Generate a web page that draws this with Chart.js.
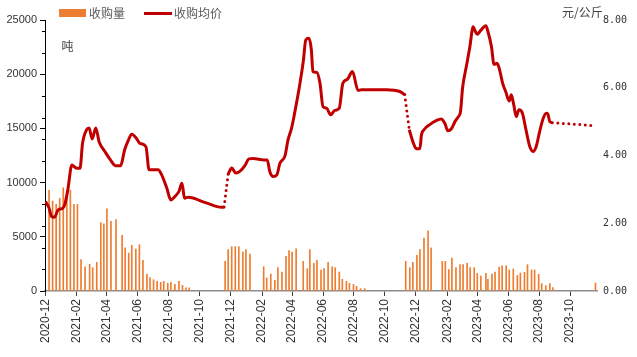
<!DOCTYPE html>
<html><head><meta charset="utf-8">
<script src="https://cdn.jsdelivr.net/npm/chart.js@4"></script>
<style>html,body{margin:0;padding:0;background:#fff}#wrap{width:637px;height:357px;position:relative}</style>
</head><body><div id="wrap"><canvas id="c"></canvas></div>
<script>
// ---- data ----
const barDates = [
 '2020-12-08','2020-12-15','2020-12-22','2020-12-29','2021-01-05','2021-01-12','2021-01-19','2021-01-26','2021-02-02','2021-02-09',
 '2021-02-17','2021-02-26','2021-03-04','2021-03-12','2021-03-20','2021-03-26','2021-04-01','2021-04-09','2021-04-19','2021-05-01',
 '2021-05-07','2021-05-14','2021-05-20','2021-05-28','2021-06-04','2021-06-11','2021-06-19','2021-06-25','2021-07-02','2021-07-09',
 '2021-07-16','2021-07-22','2021-07-30','2021-08-05','2021-08-13','2021-08-21','2021-08-28','2021-09-04','2021-09-10',
 '2021-11-20','2021-11-26','2021-12-03','2021-12-10','2021-12-17','2021-12-25','2021-12-31','2022-01-08','2022-02-04','2022-02-10',
 '2022-02-18','2022-02-26','2022-03-04','2022-03-12','2022-03-20','2022-03-26','2022-04-01','2022-04-09','2022-04-23','2022-05-01',
 '2022-05-06','2022-05-14','2022-05-20','2022-05-28','2022-06-03','2022-06-11','2022-06-19','2022-06-25','2022-07-03','2022-07-09',
 '2022-07-17','2022-07-23','2022-07-31','2022-08-06','2022-08-14','2022-08-22',
 '2022-11-11','2022-11-19','2022-11-25','2022-12-03','2022-12-09','2022-12-17','2022-12-25','2022-12-31','2023-01-22','2023-01-28',
 '2023-02-04','2023-02-10','2023-02-18','2023-02-26','2023-03-04','2023-03-12','2023-03-18','2023-03-26','2023-04-01','2023-04-08',
 '2023-04-18','2023-04-22','2023-04-30','2023-05-06','2023-05-14','2023-05-20','2023-05-28','2023-06-03','2023-06-11','2023-06-19',
 '2023-06-25','2023-07-03','2023-07-09','2023-07-17','2023-07-23','2023-07-31','2023-08-06','2023-08-14','2023-08-22','2023-08-28',
 '2023-11-20'
];
const barValues = [
 9280,8300,7990,8540,9520,9000,9300,7990,7990,2890,
 2240,2460,2150,2640,6300,6200,7590,6420,6600,5130,
 3990,3500,4210,3870,4270,2830,1540,1230,1040,890,
 800,890,710,800,610,890,520,300,300,
 2730,3810,4090,4090,4090,3590,3810,3410,2240,1200,
 1570,980,2150,1750,3200,3720,3590,3900,2730,2060,
 3810,2550,2830,1940,2060,2640,2240,2150,1750,1080,
 890,710,610,430,220,220,
 2730,2150,2640,3290,3810,4880,5560,3990,2730,2730,
 1970,3040,2150,2430,2430,2550,2150,2150,1630,1380,
 1630,1080,1570,1750,2210,2330,2330,1940,2030,1440,
 1660,1720,2430,1940,1940,1540,680,490,680,310,
 740
];
const priceDates = [
 '2020-12-01','2020-12-08','2020-12-13','2020-12-19','2020-12-26','2021-01-03','2021-01-08','2021-01-14','2021-01-22','2021-01-30',
 '2021-02-07','2021-02-12','2021-02-20','2021-02-25','2021-03-03','2021-03-10','2021-03-17','2021-03-28','2021-04-07','2021-04-18',
 '2021-04-28','2021-05-06','2021-05-13','2021-05-20','2021-05-29','2021-06-05','2021-06-17','2021-06-23','2021-07-11','2021-07-18',
 '2021-07-28','2021-08-05','2021-08-13','2021-08-21','2021-08-27','2021-09-01','2021-09-08','2021-10-14','2021-11-13','2021-11-18',
 '2021-11-22',
 '2021-11-26','2021-12-03','2021-12-11','2021-12-19','2021-12-29','2022-01-06','2022-01-14','2022-02-05','2022-02-11','2022-02-16',
 '2022-02-23','2022-03-02','2022-03-08','2022-03-18','2022-03-24','2022-03-31','2022-04-06','2022-04-15','2022-04-23','2022-04-28',
 '2022-05-04','2022-05-09','2022-05-12','2022-05-20','2022-05-26','2022-06-01','2022-06-08','2022-06-16','2022-06-24','2022-07-03',
 '2022-07-10','2022-07-19','2022-07-29','2022-08-09','2022-08-16','2022-10-04','2022-10-30','2022-11-09',
 '2022-11-13',
 '2022-11-18','2022-11-25','2022-12-02','2022-12-09','2022-12-12','2022-12-17','2022-12-29','2023-01-10','2023-01-20','2023-01-27',
 '2023-02-02','2023-02-09','2023-02-16','2023-02-22','2023-02-27','2023-03-03','2023-03-11','2023-03-17','2023-03-24','2023-03-27',
 '2023-04-01','2023-04-07','2023-04-18','2023-04-22','2023-04-29','2023-05-04','2023-05-10','2023-05-15','2023-05-21','2023-05-27',
 '2023-06-03','2023-06-07','2023-06-12','2023-06-17','2023-06-22','2023-06-29','2023-07-06','2023-07-13','2023-07-20','2023-07-26',
 '2023-08-02','2023-08-09','2023-08-15','2023-08-18','2023-08-22','2023-08-27'
];
const priceValues = [
 2.64,2.45,2.20,2.18,2.40,2.43,2.55,2.99,3.72,3.63,
 3.62,4.36,4.76,4.81,4.49,4.81,4.39,4.12,3.89,3.70,
 3.70,4.17,4.44,4.63,4.51,4.36,4.26,3.58,3.58,3.43,
 3.04,2.69,2.79,2.94,3.18,2.74,2.77,2.60,2.47,2.48,
 null,
 3.45,3.63,3.48,3.53,3.70,3.90,3.91,3.87,3.87,3.53,
 3.38,3.43,3.77,3.99,4.46,4.81,5.25,5.99,6.77,7.41,
 7.46,7.12,6.48,6.45,6.13,5.44,5.40,5.20,5.33,5.40,
 6.13,6.25,6.48,5.92,5.94,5.94,5.89,5.80,
 null,
 4.76,4.41,4.20,4.20,4.61,4.76,4.92,5.03,5.08,4.95,
 4.73,4.79,5.00,5.13,5.30,5.99,6.67,7.17,7.80,7.70,
 7.58,7.68,7.83,7.66,7.21,6.69,6.72,6.53,6.13,5.89,
 5.61,5.79,5.49,5.15,5.35,5.25,4.76,4.29,4.12,4.26,
 4.71,5.10,5.25,5.23,5.00,4.97
];
// dotted (estimated) links of the price line
const estDates  = ['2021-11-18','2021-11-26','2022-05-01','2022-11-09','2022-11-18','2023-05-01','2023-08-27','2023-11-19'];
const estValues = [2.48, 3.45, null, 5.80, 4.76, null, 4.97, 4.88];
const xTickLabels = ['2020-12','2021-02','2021-04','2021-06','2021-08','2021-10','2021-12','2022-02','2022-04',
  '2022-06','2022-08','2022-10','2022-12','2023-02','2023-04','2023-06','2023-08','2023-10'];
const seriesNames = ['收购量','收购均价'];
const leftUnit = '吨';
const rightUnit = '元/公斤';

// ---- helpers ----
const BASE = Date.UTC(2020, 11, 1);
function dayOf(s){ const p = s.split('-').map(Number); return (Date.UTC(p[0], p[1]-1, p[2] || 1) - BASE) / 86400000; }
const barData = barDates.map((d,i)=>({x: dayOf(d), y: barValues[i]}));
const priceData = priceDates.map((d,i)=>({x: dayOf(d), y: priceValues[i]}));
const estData = estDates.map((d,i)=>({x: dayOf(d), y: estValues[i]}));
const xTickValues = xTickLabels.map(l => dayOf(l));

const numFont = {family: '"Liberation Sans", Arial, sans-serif', size: 11};
const cjk = '"Noto Sans CJK SC", "Noto Sans", sans-serif';

const decor = {
  id: 'decor',
  afterDraw(chart){
    const c = chart.ctx, ys = chart.scales.y;
    c.save();
    // minor ticks on the left axis (every 2000, excluding the majors)
    c.strokeStyle = '#000'; c.lineWidth = 1;
    for (let v = 2000; v < 25000; v += 2000){
      if (v % 5000 === 0) continue;
      const py = Math.round(ys.getPixelForValue(v)) + 0.5;
      c.beginPath(); c.moveTo(ys.right - 3, py); c.lineTo(ys.right, py); c.stroke();
    }
    // legend
    c.fillStyle = '#ED7D31';
    c.fillRect(59, 9, 27, 8);
    c.strokeStyle = '#C00000'; c.lineWidth = 3;
    c.beginPath(); c.moveTo(144, 13.5); c.lineTo(172, 13.5); c.stroke();
    c.font = '12px ' + cjk; c.textBaseline = 'middle'; c.textAlign = 'left';
    c.fillStyle = '#595959';
    c.fillText(seriesNames[0], 89, 13.5);
    c.fillText(seriesNames[1], 174, 13.5);
    // units
    c.fillStyle = '#404040';
    c.fillText(leftUnit, 61.5, 46);
    c.fillText(rightUnit, 562, 12.5);
    c.restore();
  }
};

new Chart(document.getElementById('c'), {
  type: 'bar',
  data: {
    datasets: [
      {type: 'line', label: seriesNames[1], data: priceData, yAxisID: 'y1', borderColor: '#C00000', backgroundColor: '#C00000',
       borderWidth: 3, pointRadius: 0, cubicInterpolationMode: 'monotone', spanGaps: false, order: 0, borderJoinStyle: 'round'},
      {type: 'line', label: seriesNames[1] + '（估）', data: estData, yAxisID: 'y1', borderColor: '#C00000',
       borderWidth: 3, borderDash: [0, 5.5], borderCapStyle: 'round', pointRadius: 0, spanGaps: false, tension: 0, order: 1},
      {type: 'bar', label: seriesNames[0], data: barData, yAxisID: 'y', backgroundColor: '#ED7D31', barThickness: 1, order: 2}
    ]
  },
  options: {
    responsive: true, maintainAspectRatio: false, animation: false,
    layout: {padding: {top: 20, left: 0, right: 0, bottom: 0}},
    plugins: {legend: {display: false}, tooltip: {enabled: false}},
    scales: {
      x: {
        type: 'linear', min: -1, max: 1087, offset: false,
        afterBuildTicks: s => { s.ticks = xTickValues.map(v => ({value: v})); },
        afterFit: s => { s.height = 66; },
        grid: {drawOnChartArea: false, color: '#404040', tickLength: 5, offset: false},
        border: {color: '#8c8c8c', width: 1.5},
        ticks: {autoSkip: false, maxRotation: 90, minRotation: 90, padding: 3, color: '#333',
                font: {family: '"Liberation Sans", Arial, sans-serif', size: 12},
                callback: (v, i) => xTickLabels[i]}
      },
      y: {
        position: 'left', min: 0, max: 25000,
        afterFit: s => { s.width = 45; },
        ticks: {stepSize: 5000, padding: 3, color: '#333', font: numFont, callback: v => String(v)},
        grid: {drawOnChartArea: false, color: '#000', tickLength: 5},
        border: {color: '#000', width: 1}
      },
      y1: {
        position: 'right', min: 0, max: 8,
        afterFit: s => { s.width = 40; },
        ticks: {stepSize: 2, padding: 6, color: '#333', font: {family: '"DejaVu Sans Mono", monospace', size: 10},
                callback: v => v.toFixed(2)},
        grid: {display: false, drawOnChartArea: false, drawTicks: false},
        border: {display: false}
      }
    }
  },
  plugins: [decor]
});
</script>
</body></html>
